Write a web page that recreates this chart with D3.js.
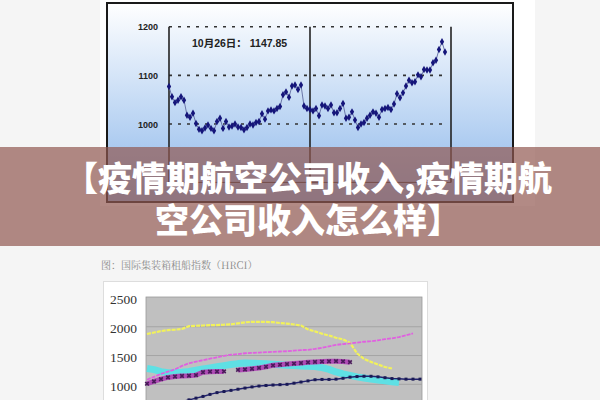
<!DOCTYPE html>
<html>
<head>
<meta charset="utf-8">
<script src="https://cdn.jsdelivr.net/npm/d3@7"></script>
<style>
  html, body { margin: 0; padding: 0; background: #f5f5f5; }
  svg { display: block; }
</style>
</head>
<body>
<svg id="chart" width="600" height="400"></svg>
<script>
// ---------- Top chart data (daily index) ----------
const topValues = [1077, 1056, 1044, 1049, 1056, 1049, 1018, 1014, 1022, 1001,
  989, 986, 992, 998, 991, 986, 1005, 1012, 991, 1005,
  994, 996, 1000, 994, 993, 988, 993, 1000, 998, 1003,
  1005, 1021, 1010, 1027, 1029, 1027, 1032, 1036, 1060, 1066,
  1055, 1078, 1080, 1071, 1080, 1037, 1032, 1030, 1027, 1032,
  1017, 1039, 1037, 1032, 1039, 1023, 1023, 1032, 1042, 1012,
  1014, 1025, 1008, 993, 1000, 1003, 1012, 1018, 1025, 1022,
  1014, 1030, 1032, 1034, 1030, 1041, 1062, 1054, 1064, 1078,
  1090, 1085, 1087, 1101, 1097, 1112, 1111, 1111, 1126, 1131,
  1153, 1169, 1147.85];
const topPeriods = [0, 47, 94];
const topTicks = [1000, 1100, 1200];
const topNoteDate = "10月26日：";

// ---------- Bottom chart data (HRCI) ----------
const hrciTicks = [1000, 1500, 2000, 2500];
const seriesYellow = [1875, 1900, 1925, 1942, 1950, 1962, 2010, 2018, 2022, 2027,
  2030, 2035, 2042, 2060, 2078, 2085, 2085, 2084, 2080, 2065,
  2055, 2040, 2020, 1955, 1920, 1880, 1848, 1810, 1780, 1720,
  1540, 1440, 1390, 1345, 1300, 1275];
const seriesMagenta = [1080, 1130, 1180, 1220, 1260, 1320, 1365, 1395, 1420, 1445,
  1470, 1495, 1515, 1525, 1540, 1545, 1552, 1558, 1565, 1570,
  1575, 1585, 1595, 1600, 1615, 1635, 1660, 1685, 1700, 1710,
  1725, 1740, 1750, 1765, 1785, 1800, 1820, 1850, 1885];
const seriesCyan = [1275, 1255, 1220, 1200, 1200, 1210, 1225, 1245, 1265, 1285,
  1305, 1325, 1345, 1360, 1370, 1368, 1362, 1358, 1350, 1340,
  1330, 1325, 1320, 1315, 1310, 1290, 1260, 1215, 1180, 1155,
  1130, 1110, 1090, 1075, 1060, 1045, 1030];
const seriesPurple = [1010, 1050, 1090, 1120, 1135, 1145, 1150, 1160, 1210, 1220,
  1222, 1225, null, 1250, 1258, 1270, 1285, 1305, 1330, 1340,
  1352, 1360, 1370, 1382, 1390, 1395, 1400, 1402, 1398, 1385];
const seriesNavy = [null, null, null, 640, 670, 700, 730, 760, 790, 825,
  856, 875, 895, 915, 935, 955, 970, 980, 988, 994,
  1000, 1020, 1040, 1060, 1080, 1085, 1085, 1090, 1105, 1125,
  1135, 1140, 1140, 1130, 1115, 1100, 1095, 1090, 1090, 1090];
const captionText = "图：国际集装箱租船指数（HRCI）";

// ---------- Banner ----------
const bannerLines = ["【疫情期航空公司收入,疫情期航", "空公司收入怎么样】"];

const svg = d3.select("#chart");
const defs = svg.append("defs");
const grad = defs.append("linearGradient").attr("id", "topGrad")
  .attr("x1", 0).attr("y1", 0).attr("x2", 0).attr("y2", 1);
grad.append("stop").attr("offset", "0%").attr("stop-color", "#ffffff");
grad.append("stop").attr("offset", "100%").attr("stop-color", "#8cb7eb");

// ===== TOP CHART =====
svg.append("rect").attr("x", 100).attr("y", 0).attr("width", 435).attr("height", 206).attr("fill", "#ffffff");
svg.append("rect").attr("x", 107).attr("y", 3).attr("width", 406).attr("height", 199)
  .attr("fill", "url(#topGrad)").attr("stroke", "#1a1a1a").attr("stroke-width", 2);

const tx = d3.scaleLinear().domain([0, 94]).range([169, 451]);
const ty = d3.scaleLinear().domain([880, 1200]).range([182.4, 26.7]);

const tg = svg.append("g");
tg.selectAll("line.grid").data(topTicks).join("line")
  .attr("x1", tx(0)).attr("x2", 446)
  .attr("y1", d => ty(d)).attr("y2", d => ty(d))
  .attr("stroke", "#333").attr("stroke-width", 1.6).attr("stroke-dasharray", "3,6");
tg.append("line").attr("x1", tx(0)).attr("x2", tx(94)).attr("y1", ty(880)).attr("y2", ty(880))
  .attr("stroke", "#333").attr("stroke-width", 1);
tg.selectAll("line.per").data(topPeriods).join("line")
  .attr("x1", d => tx(d)).attr("x2", d => tx(d))
  .attr("y1", ty(1200)).attr("y2", ty(880))
  .attr("stroke", "#222").attr("stroke-width", 1.6);
const tAxis = d3.axisLeft(ty).tickValues(topTicks).tickSize(0).tickPadding(0).tickFormat(d3.format("d"));
const tAxisG = tg.append("g").attr("transform", "translate(158,0)").call(tAxis);
tAxisG.select(".domain").remove();
tAxisG.selectAll("text").attr("font-family", "Arial, 'Liberation Sans', sans-serif")
  .attr("font-size", 9).attr("font-weight", "bold").attr("fill", "#222").attr("dy", "0.35em");
tg.append("path").datum(topValues)
  .attr("d", d3.line().x((d, i) => tx(i)).y(d => ty(d)))
  .attr("fill", "none").attr("stroke", "#6b77a8").attr("stroke-width", 1);
tg.selectAll("path.mk").data(topValues).join("path")
  .attr("transform", (d, i) => `translate(${tx(i)},${ty(d)})`)
  .attr("d", d3.symbol().type(d3.symbolDiamond).size(16))
  .attr("fill", "#15157a");
tg.append("text").attr("x", 192).attr("y", 47)
  .attr("font-family", "Arial, 'Liberation Sans', 'Noto Sans CJK SC', sans-serif")
  .attr("font-size", 10.5).attr("font-weight", "bold").attr("fill", "#222")
  .text(topNoteDate + " " + d3.format(".2f")(topValues[topValues.length - 1]));

// ===== BOTTOM CHART =====
svg.append("text").attr("x", 101).attr("y", 269)
  .attr("font-family", "'Noto Serif CJK SC', 'Noto Sans CJK SC', serif")
  .attr("font-size", 10).attr("fill", "#8a8a8a").text(captionText);

svg.append("rect").attr("x", 103.5).attr("y", 281.5).attr("width", 324).attr("height", 140)
  .attr("fill", "#ffffff").attr("stroke", "#dddddd");
svg.append("rect").attr("x", 146).attr("y", 297).attr("width", 276).attr("height", 120)
  .attr("fill", "#c0c0c0").attr("stroke", "#9a9a9a").attr("stroke-width", 0.8);

const bx = d3.scaleLinear().domain([0, 39]).range([147, 420]);
const by = d3.scaleLinear().domain([500, 2500]).range([413.1, 298]);
const bg = svg.append("g");
bg.selectAll("line.grid").data(hrciTicks.slice(0, 3)).join("line")
  .attr("x1", 146).attr("x2", 422)
  .attr("y1", d => by(d)).attr("y2", d => by(d))
  .attr("stroke", "#a4a4a4").attr("stroke-width", 1);
const bAxis = d3.axisLeft(by).tickValues(hrciTicks).tickSize(0).tickPadding(0).tickFormat(d3.format("d"));
const bAxisG = bg.append("g").attr("transform", "translate(137,1)").call(bAxis);
bAxisG.select(".domain").remove();
bAxisG.selectAll("text").attr("font-family", "'Liberation Serif', 'Times New Roman', serif")
  .attr("font-size", 13.5).attr("fill", "#333").attr("dy", "0.35em");

const bLineI = arr => d3.line().defined(d => d.v != null).x(d => bx(d.i)).y(d => by(d.v))(arr.map((v, i) => ({v, i})));

bg.append("path").attr("d", bLineI(seriesCyan)).attr("fill", "none")
  .attr("stroke", "#5fe0e4").attr("stroke-width", 7).attr("stroke-linejoin", "round");
bg.append("path").attr("d", bLineI(seriesYellow)).attr("fill", "none")
  .attr("stroke", "#f2f25a").attr("stroke-width", 2.2).attr("stroke-dasharray", "4,1");
bg.append("path").attr("d", bLineI(seriesMagenta)).attr("fill", "none")
  .attr("stroke", "#e060e0").attr("stroke-width", 1.8).attr("stroke-dasharray", "4,1");
bg.append("path").attr("d", bLineI(seriesNavy)).attr("fill", "none")
  .attr("stroke", "#22226e").attr("stroke-width", 1.5);
bg.selectAll("rect.nv").data(seriesNavy.map((v, i) => ({v, i})).filter(d => d.v != null)).join("rect")
  .attr("x", d => bx(d.i) - 1.5).attr("y", d => by(d.v) - 1.5).attr("width", 3).attr("height", 3)
  .attr("fill", "#1a1a55");
bg.append("path").attr("d", bLineI(seriesPurple)).attr("fill", "none")
  .attr("stroke", "#b04cb6").attr("stroke-width", 5);
const pPts = seriesPurple.map((v, i) => ({v, i})).filter(d => d.v != null);
bg.selectAll("path.px").data(pPts).join("path")
  .attr("transform", d => `translate(${bx(d.i)},${by(d.v)}) rotate(45)`)
  .attr("d", d3.symbol().type(d3.symbolCross).size(14))
  .attr("fill", "#4a1a5a");

// ===== BANNER =====
svg.append("rect").attr("x", 0).attr("y", 147).attr("width", 600).attr("height", 99)
  .attr("fill", "rgba(146,89,81,0.7)");
const bannerText = svg.append("text")
  .attr("text-anchor", "middle")
  .attr("font-family", "'Noto Sans CJK SC', sans-serif")
  .attr("font-size", 34).attr("font-weight", 900).attr("fill", "#ffffff");
bannerText.selectAll("tspan").data(bannerLines).join("tspan")
  .attr("x", 308).attr("y", (d, i) => 191 + i * 42)
  .text(d => d);
</script>
</body>
</html>
